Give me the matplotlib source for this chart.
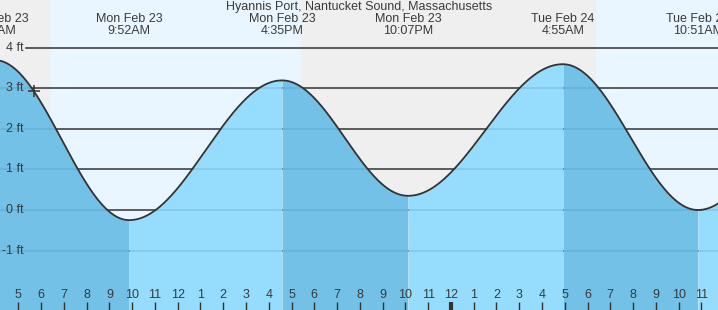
import numpy as np
import matplotlib
matplotlib.use("Agg")
import matplotlib.pyplot as plt
import matplotlib.transforms as mtransforms

plt.rcParams['font.family'] = ['Liberation Sans', 'DejaVu Sans']

title = "Hyannis Port, Nantucket Sound, Massachusetts"

# Tide extremes (hours after Mon Feb 23 00:00) and heights (ft)
extreme_hours = [3.97, 9.867, 16.583, 22.117, 28.917, 34.85, 41.0]
extreme_heights = [3.7, -0.25, 3.2, 0.35, 3.6, 0.0, 3.2]
extreme_days = ["Mon Feb 23", "Mon Feb 23", "Mon Feb 23", "Mon Feb 23", "Tue Feb 24", "Tue Feb 24", "Tue Feb 24"]
extreme_times = ["3:58AM", "9:52AM", "4:35PM", "10:07PM", "4:55AM", "10:51AM", "5:00PM"]

# Sun times (hours after Mon 00:00)
sunrise_hours = [6.39, 30.38]
sunset_hours = [17.41, 41.4]

# Current time marker
now_hour = 5.69

# Axis settings
x_min, x_max = 4.196, 35.73
y_min, y_max = -2.469, 5.185
ft_levels = [4, 3, 2, 1, 0, -1]
ft_labels = ["4 ft", "3 ft", "2 ft", "1 ft", "0 ft", "-1 ft"]
hour_ticks = list(range(5, 36))

NIGHT_BG = "#efefef"
DAY_BG = "#eaf6ff"
FALL_FILL = "#73c1e6"
RISE_FILL = "#96dcfc"
TXT = "#3a3a3a"


def tide(t):
    t = np.asarray(t, dtype=float)
    out = np.empty_like(t)
    eh = np.array(extreme_hours)
    ev = np.array(extreme_heights)
    for i in range(len(eh) - 1):
        m = (t >= eh[i]) & (t <= eh[i + 1])
        f = (t[m] - eh[i]) / (eh[i + 1] - eh[i])
        out[m] = ev[i] + (ev[i + 1] - ev[i]) * (1 - np.cos(np.pi * f)) / 2
    return out


fig = plt.figure(figsize=(7.18, 3.10), dpi=100)
ax = fig.add_axes([0, 0, 1, 1])
ax.set_xlim(x_min, x_max)
ax.set_ylim(y_min, y_max)
for s in ax.spines.values():
    s.set_visible(False)

# Day/night background
ax.axvspan(x_min - 5, x_max + 5, color=NIGHT_BG, zorder=0, lw=0)
for sr, ss in zip(sunrise_hours, sunset_hours):
    ax.axvspan(sr, ss, color=DAY_BG, zorder=0.1, lw=0)

# Grid lines (start after labels)
px = (x_max - x_min) / 718.0
x_line_start = x_min + 26 * px
for lv, lab in zip(ft_levels, ft_labels):
    ax.plot([x_line_start, x_max + 1], [lv, lv], color="#333333", lw=1.1, zorder=1)
    ax.text(x_min + 24 * px, lv, lab, ha='right', va='center',
            fontsize=9, color=TXT, zorder=6)

# Tide curve and fills
t = np.linspace(extreme_hours[0], extreme_hours[-1], 3000)
h = tide(t)
for i in range(len(extreme_hours) - 1):
    m = (t >= extreme_hours[i]) & (t <= extreme_hours[i + 1])
    col = FALL_FILL if extreme_heights[i + 1] < extreme_heights[i] else RISE_FILL
    ax.fill_between(t[m], y_min - 1, h[m], color=col, lw=0, zorder=2)

clip = ax.fill_between(t, y_min - 1, h, color='none', lw=0, zorder=0)
for lv in ft_levels:
    ln, = ax.plot([x_line_start - 30 * px, x_max + 1], [lv, lv], color=(0.15, 0.4, 0.6, 0.18), lw=1.1, zorder=3)
    ln.set_clip_path(clip.get_paths()[0], ax.transData)

ax.plot(t, h, color="#333333", lw=1.3, zorder=4)

# Current time marker
ax.plot([now_hour], tide([now_hour]), marker='+', color="#333333", ms=9, mew=1.1, zorder=5)

# Title and extreme labels
ax.text(0.5, 1 - 7 / 310, title, transform=ax.transAxes, ha='center', va='center',
        fontsize=9, color=TXT)
trans = mtransforms.blended_transform_factory(ax.transData, ax.transAxes)
for eh, d, tm in zip(extreme_hours, extreme_days, extreme_times):
    ax.text(eh, 1 - 19.5 / 310, d, transform=trans, ha='center', va='center', fontsize=9, color=TXT)
    ax.text(eh, 1 - 31.5 / 310, tm, transform=trans, ha='center', va='center', fontsize=9, color=TXT)

# Hour ticks at the bottom
for hr in hour_ticks:
    lab = str((hr - 1) % 12 + 1)
    ax.text(hr, (310 - 295.5) / 310, lab, transform=trans, ha='center', va='center',
            fontsize=9, color=TXT, zorder=6)
    lw = 3 if hr % 24 == 0 else 1
    ax.plot([hr, hr], [0, 8 / 310], transform=trans, color="#333333", lw=lw, zorder=6,
            solid_capstyle='butt')

ax.set_xticks([])
ax.set_yticks([])
fig.savefig("out.png", dpi=100)
